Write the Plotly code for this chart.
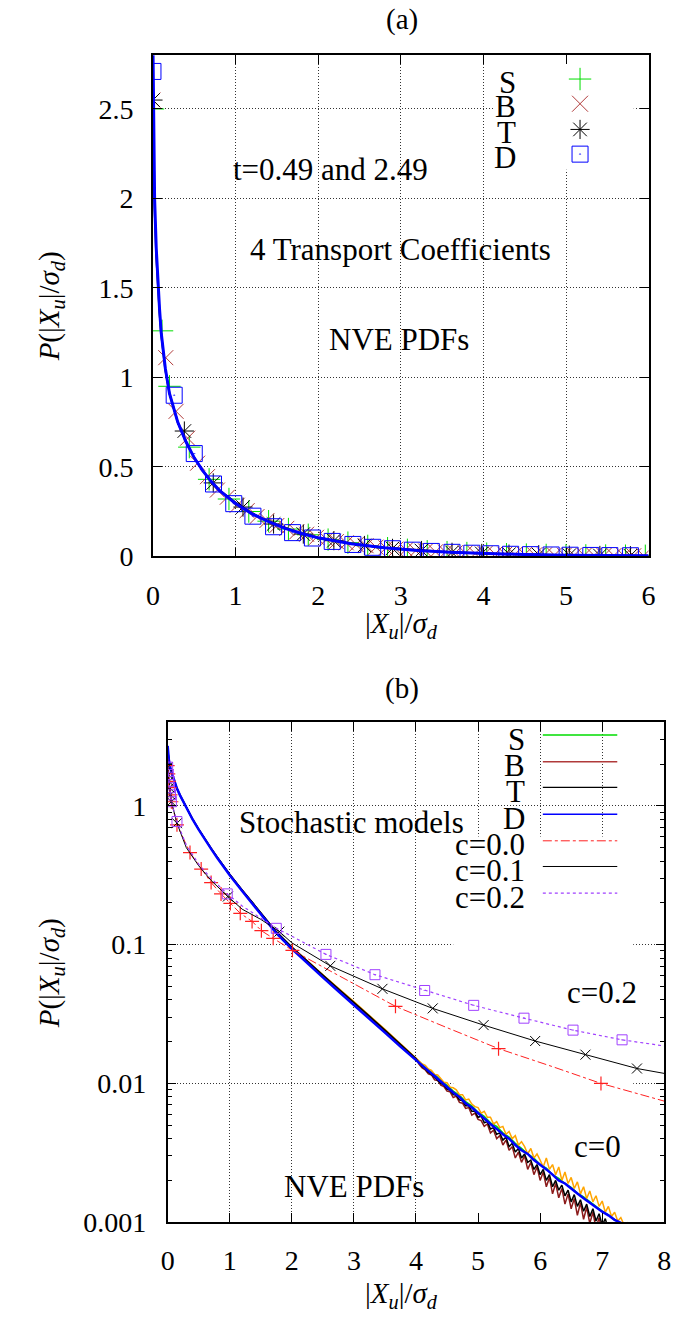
import math
import plotly.graph_objects as go

W, H = 685, 1336

# ---------------- Panel (a) data ----------------
a_line_x = [0.0, 0.01, 0.02, 0.04, 0.06, 0.08, 0.1, 0.15, 0.2, 0.3, 0.4, 0.5, 0.6, 0.7, 0.8, 1.0,
            1.2, 1.4, 1.6, 1.8, 2.0, 2.4, 2.8, 3.2, 3.6, 4.0, 4.5, 5.0, 5.5, 6.0]
a_T_line = [2.55, 2.2, 1.95, 1.68, 1.5, 1.36, 1.24, 1.04, 0.91, 0.75, 0.64, 0.55, 0.48, 0.42, 0.37, 0.3,
            0.24, 0.195, 0.158, 0.128, 0.104, 0.071, 0.048, 0.033, 0.022, 0.015, 0.0095, 0.0061, 0.0039, 0.0026]
a_D_line = [2.85, 2.3, 2.0, 1.72, 1.52, 1.38, 1.25, 1.05, 0.91, 0.75, 0.64, 0.55, 0.48, 0.42, 0.37, 0.295,
            0.237, 0.193, 0.156, 0.127, 0.103, 0.07, 0.047, 0.032, 0.022, 0.015, 0.0094, 0.006, 0.0039, 0.0026]

a_S_x = [0.0, 0.11, 0.2, 0.44, 0.68, 0.92, 1.16, 1.4, 1.64, 1.88, 2.12, 2.36, 2.6, 2.84, 3.08, 3.32,
         3.56, 3.8, 4.04, 4.28, 4.52, 4.76, 5.0, 5.24, 5.48, 5.72, 5.96]
a_S_y = [2.5, 1.26, 0.95, 0.61, 0.43, 0.32, 0.25, 0.196, 0.152, 0.12, 0.093, 0.076, 0.058, 0.045, 0.036, 0.028,
         0.023, 0.018, 0.0143, 0.0113, 0.0092, 0.0073, 0.006, 0.0048, 0.004, 0.0032, 0.0026]

a_B_x = [0.0, 0.155, 0.28, 0.42, 0.54, 0.66, 0.78, 0.9, 1.02, 1.14, 1.26, 1.38, 1.5, 1.62, 1.74, 1.86,
         1.98, 2.1, 2.22, 2.34, 2.46, 2.58, 2.7, 2.82, 2.94, 3.06, 3.18, 3.3, 3.42, 3.54, 3.66, 3.78,
         3.9, 4.02, 4.14, 4.26, 4.38, 4.5, 4.62, 4.74, 4.86, 4.98, 5.1, 5.22, 5.34, 5.46, 5.58, 5.7, 5.82, 5.94]
a_B_y = [2.55, 1.11, 0.81, 0.66, 0.52, 0.445, 0.37, 0.33, 0.285, 0.255, 0.222, 0.2, 0.172, 0.156, 0.136, 0.123,
         0.106, 0.095, 0.082, 0.075, 0.065, 0.059, 0.051, 0.047, 0.04, 0.037, 0.031, 0.03, 0.025, 0.024, 0.0195, 0.0185,
         0.0155, 0.015, 0.0125, 0.0118, 0.0099, 0.0096, 0.008, 0.0077, 0.0064, 0.0062, 0.0052, 0.005, 0.0042, 0.0041,
         0.0035, 0.0033, 0.0028, 0.0027]

a_T_x = [0.0, 0.38, 0.73, 1.09, 1.46, 1.82, 2.19, 2.56, 2.9, 3.25, 3.62, 3.98, 4.31, 4.67, 5.04, 5.41, 5.78]
a_T_y = [2.55, 0.70, 0.41, 0.275, 0.18, 0.124, 0.087, 0.06, 0.044, 0.032, 0.022, 0.0158, 0.0118, 0.0086,
         0.0062, 0.0045, 0.0032]

a_D_x = [0.0, 0.257, 0.5, 0.733, 0.978, 1.21, 1.46, 1.69, 1.93, 2.17, 2.42, 2.66, 2.9, 3.14, 3.37, 3.62,
         3.86, 4.09, 4.33, 4.57, 4.82, 5.05, 5.3, 5.53, 5.78]
a_D_y = [2.71, 0.90, 0.574, 0.404, 0.294, 0.224, 0.165, 0.132, 0.102, 0.083, 0.066, 0.05, 0.042, 0.034,
         0.027, 0.022, 0.017, 0.014, 0.011, 0.009, 0.0072, 0.0058, 0.0046, 0.0037, 0.003]

# ---------------- Panel (b) data ----------------
b_x_smooth = [0.0, 0.02, 0.05, 0.1, 0.15, 0.2, 0.3, 0.4, 0.5, 0.6, 0.7, 0.8, 0.9, 1.0, 1.2, 1.4, 1.6, 1.75,
              2.0, 2.25, 2.5, 2.75, 3.0, 3.25, 3.5, 3.75, 4.0]
b_x_tail = [4.1, 4.2, 4.3, 4.4, 4.5, 4.6, 4.7, 4.8, 4.9, 5.0, 5.1, 5.2, 5.3, 5.4, 5.5, 5.6, 5.7, 5.8, 5.9,
            6.0, 6.1, 6.2, 6.3, 6.4, 6.5, 6.6, 6.7, 6.8, 6.9, 7.0, 7.1, 7.2, 7.3, 7.4]
b_x_noisy = [4.05, 4.1, 4.15, 4.2, 4.25, 4.3, 4.35, 4.4, 4.45, 4.5, 4.55, 4.6, 4.65, 4.7, 4.75, 4.8, 4.85,
             4.9, 4.95, 5.0, 5.05, 5.1, 5.15, 5.2, 5.25, 5.3, 5.35, 5.4, 5.45, 5.5, 5.55, 5.6, 5.65, 5.7,
             5.75, 5.8, 5.85, 5.9, 5.95, 6.0, 6.05, 6.1, 6.15, 6.2, 6.25, 6.3, 6.35, 6.4, 6.45, 6.5, 6.55,
             6.6, 6.65, 6.7, 6.75, 6.8, 6.85, 6.9, 6.95, 7.0, 7.05, 7.1, 7.15, 7.2, 7.25, 7.3, 7.35, 7.4, 7.45]

b_S_smooth = [2.6, 2.1, 1.8, 1.52, 1.33, 1.19, 0.968, 0.803, 0.676, 0.574, 0.492, 0.424, 0.367, 0.319, 0.246,
              0.19, 0.148, 0.123, 0.0952, 0.0752, 0.0598, 0.0477, 0.0381, 0.0302, 0.024, 0.019, 0.0151]
b_S_tail = [0.0137, 0.0125, 0.0116, 0.0105, 0.0097, 0.0088, 0.0082, 0.0074, 0.0069, 0.0062, 0.0058, 0.0052,
            0.0049, 0.0044, 0.0041, 0.0037, 0.0034, 0.0031, 0.0029, 0.0026, 0.00245, 0.0022, 0.00207, 0.0019,
            0.00178, 0.00162, 0.00152, 0.0014, 0.0013, 0.0012, 0.00113, 0.00104, 0.00098, 0.0009]
b_B_smooth = [2.62, 2.11, 1.8, 1.52, 1.33, 1.19, 0.967, 0.804, 0.677, 0.575, 0.493, 0.425, 0.368, 0.32, 0.247,
              0.191, 0.1485, 0.1235, 0.0955, 0.0755, 0.06, 0.0479, 0.0383, 0.0303, 0.0241, 0.019, 0.015]
b_B_noisy = [0.0137, 0.0129, 0.0125, 0.0117, 0.0115, 0.0106, 0.0105, 0.0097, 0.0095, 0.0088, 0.0087, 0.0079,
             0.0081, 0.0073, 0.0072, 0.0066, 0.0067, 0.0059, 0.0061, 0.0055, 0.0054, 0.0049, 0.0051, 0.0044,
             0.0046, 0.0040, 0.0042, 0.0036, 0.0039, 0.0033, 0.0035, 0.0029, 0.0032, 0.0027, 0.0030, 0.0024,
             0.0027, 0.0022, 0.0025, 0.0020, 0.0023, 0.0018, 0.0021, 0.0016, 0.0019, 0.0015, 0.00175, 0.00135,
             0.0016, 0.00125, 0.00148, 0.00112, 0.00138, 0.00105, 0.00128, 0.00098, 0.00118, 0.0009, 0.00108,
             0.00085, 0.001, 0.0008, 0.00092, 0.00075, 0.0008, 0.0007, 0.0007, 0.0006, 0.0006]
b_T_smooth = [2.65, 2.12, 1.81, 1.53, 1.335, 1.195, 0.97, 0.806, 0.679, 0.577, 0.495, 0.427, 0.37, 0.322, 0.248,
              0.192, 0.149, 0.124, 0.096, 0.0758, 0.0603, 0.0481, 0.0385, 0.0305, 0.0242, 0.0191, 0.0151]
b_T_noisy = [0.0141, 0.0132, 0.0127, 0.0120, 0.0116, 0.0110, 0.0106, 0.0100, 0.0097, 0.0091, 0.0089, 0.0083,
             0.0082, 0.0076, 0.0075, 0.0069, 0.0069, 0.0063, 0.0063, 0.0057, 0.0058, 0.0052, 0.0053, 0.0047,
             0.0048, 0.0043, 0.0044, 0.0039, 0.0041, 0.0035, 0.0037, 0.0032, 0.0034, 0.0029, 0.0031, 0.0027,
             0.0028, 0.0024, 0.0026, 0.0022, 0.0024, 0.0020, 0.0022, 0.0018, 0.0020, 0.0017, 0.00185, 0.00155,
             0.0017, 0.0014, 0.00158, 0.0013, 0.00145, 0.0012, 0.00135, 0.0011, 0.00125, 0.00102, 0.00115,
             0.00095, 0.00106, 0.00088, 0.00097, 0.00082, 0.00088, 0.00076, 0.0008, 0.0007, 0.0007]
b_D_smooth = [2.7, 2.14, 1.82, 1.53, 1.33, 1.19, 0.966, 0.8, 0.673, 0.571, 0.489, 0.421, 0.364, 0.316, 0.243,
              0.1875, 0.1455, 0.1208, 0.0933, 0.0733, 0.058, 0.0461, 0.0368, 0.0292, 0.0232, 0.0184, 0.0146]
b_D_tail = [0.0134, 0.0123, 0.0113, 0.0103, 0.0095, 0.0086, 0.0080, 0.0072, 0.0067, 0.0061, 0.0056, 0.0051,
            0.0047, 0.0043, 0.0040, 0.0036, 0.0033, 0.0031, 0.0028, 0.0026, 0.0024, 0.0022, 0.0020, 0.0019,
            0.00174, 0.00161, 0.00149, 0.00138, 0.00128, 0.00119, 0.00112, 0.00104, 0.00099, 0.00093]
b_O_head_x = [2.0, 2.5, 3.0, 3.5, 4.0]
b_O_head_y = [0.096, 0.0605, 0.0388, 0.0245, 0.0152]
b_O_noisy = [0.0146, 0.0138, 0.0135, 0.0127, 0.0124, 0.0116, 0.0115, 0.0109, 0.0102, 0.0101, 0.0094, 0.0093,
             0.0090, 0.0083, 0.0083, 0.0076, 0.0077, 0.0071, 0.0068, 0.0067, 0.0061, 0.0063, 0.0057, 0.0057,
             0.0051, 0.0053, 0.0048, 0.0049, 0.0043, 0.0045, 0.0040, 0.0042, 0.0036, 0.0038, 0.0035, 0.0031,
             0.0034, 0.0029, 0.0031, 0.0028, 0.0025, 0.0029, 0.0024, 0.0026, 0.0022, 0.0025, 0.0020, 0.0023,
             0.0019, 0.0021, 0.00175, 0.00195, 0.0016, 0.0018, 0.00148, 0.00168, 0.0014, 0.00155, 0.0013,
             0.00142, 0.00118, 0.0013, 0.0011, 0.00118, 0.00102, 0.00108, 0.00096, 0.00099, 0.00088]

c0_x = [0.0, 0.01, 0.02, 0.03, 0.045, 0.06, 0.15, 0.36, 0.54, 0.70, 0.86, 1.01, 1.17, 1.36, 1.51, 1.70,
        2.01, 2.5, 3.0, 3.67, 4.5, 5.33, 6.2, 6.98, 8.0]
c0_y = [1.95, 1.7, 1.5, 1.35, 1.2, 1.07, 0.73, 0.46, 0.35, 0.28, 0.232, 0.198, 0.168, 0.147, 0.126, 0.111,
        0.091, 0.069, 0.052, 0.0359, 0.0252, 0.0178, 0.0132, 0.01, 0.00745]
c0_mx = [0.0, 0.01, 0.02, 0.03, 0.045, 0.06, 0.15, 0.36, 0.54, 0.70, 0.86, 1.01, 1.17, 1.36, 1.51, 1.70,
         2.01, 3.67, 5.33, 6.98]
c0_my = [1.95, 1.7, 1.5, 1.35, 1.2, 1.07, 0.73, 0.46, 0.35, 0.28, 0.232, 0.198, 0.168, 0.147, 0.126, 0.111,
         0.091, 0.0359, 0.0178, 0.01]

c1_x = [0.0, 0.01, 0.02, 0.03, 0.045, 0.06, 0.15, 0.3, 0.5, 0.7, 0.97, 1.2, 1.5, 1.8, 2.0, 2.62, 3.46,
        4.27, 5.09, 5.92, 6.73, 7.56, 8.0]
c1_y = [1.9, 1.68, 1.5, 1.35, 1.2, 1.07, 0.75, 0.5, 0.37, 0.29, 0.222, 0.18, 0.152, 0.124, 0.103, 0.0703,
        0.048, 0.0347, 0.0263, 0.0202, 0.0161, 0.0128, 0.0118]
c1_mx = [0.0, 0.01, 0.02, 0.03, 0.045, 0.06, 0.15, 0.97, 1.8, 2.62, 3.46, 4.27, 5.09, 5.92, 6.73, 7.56]
c1_my = [1.9, 1.68, 1.5, 1.35, 1.2, 1.07, 0.75, 0.222, 0.124, 0.0703, 0.048, 0.0347, 0.0263, 0.0202,
         0.0161, 0.0128]

c2_x = [0.0, 0.01, 0.02, 0.03, 0.045, 0.06, 0.15, 0.3, 0.5, 0.7, 0.96, 1.2, 1.5, 1.75, 2.0, 2.55, 3.34,
        4.14, 4.93, 5.74, 6.53, 7.32, 8.0]
c2_y = [1.9, 1.68, 1.5, 1.35, 1.2, 1.07, 0.77, 0.52, 0.38, 0.3, 0.232, 0.19, 0.155, 0.131, 0.115, 0.085,
        0.0607, 0.0467, 0.0365, 0.0295, 0.0242, 0.0206, 0.0186]
c2_mx = [0.0, 0.01, 0.02, 0.03, 0.045, 0.06, 0.15, 0.96, 1.75, 2.55, 3.34, 4.14, 4.93, 5.74, 6.53, 7.32]
c2_my = [1.9, 1.68, 1.5, 1.35, 1.2, 1.07, 0.77, 0.232, 0.131, 0.085, 0.0607, 0.0467, 0.0365, 0.0295,
         0.0242, 0.0206]

# ---------------- styling ----------------
FONT = "Liberation Serif"
FS_TICK = 28
FS_TEXT = 31
FS_TITLE = 29
C_S = "#00dd00"
C_B = "#b03a3a"
C_T = "#000000"
C_D = "#0000ff"
C_C0 = "#ff2020"
C_C2 = "#a040ff"


def px(x, y):
    return x / W, 1 - y / H


fig = go.Figure()

# ---- panel (a) ----
fig.add_trace(go.Scatter(x=a_S_x, y=a_S_y, mode="markers", xaxis="x", yaxis="y", showlegend=False,
                         marker=dict(symbol="cross-thin-open", size=16, color=C_S, line=dict(width=1, color=C_S))))
fig.add_trace(go.Scatter(x=a_B_x, y=a_B_y, mode="markers", xaxis="x", yaxis="y", showlegend=False,
                         marker=dict(symbol="x-thin-open", size=15, color=C_B, line=dict(width=1, color=C_B))))
fig.add_trace(go.Scatter(x=a_T_x, y=a_T_y, mode="markers", xaxis="x", yaxis="y", showlegend=False,
                         marker=dict(symbol="asterisk-open", size=16, color=C_T, line=dict(width=1, color=C_T))))
fig.add_trace(go.Scatter(x=a_D_x, y=a_D_y, mode="markers", xaxis="x", yaxis="y", showlegend=False,
                         marker=dict(symbol="square-open-dot", size=16, color=C_D, line=dict(width=1, color=C_D))))
fig.add_trace(go.Scatter(x=a_line_x, y=a_T_line, mode="lines", xaxis="x", yaxis="y", showlegend=False,
                         line=dict(color="black", width=2)))
fig.add_trace(go.Scatter(x=a_line_x, y=a_D_line, mode="lines", xaxis="x", yaxis="y", showlegend=False,
                         line=dict(color=C_D, width=3)))

# ---- panel (b) ----
fig.add_trace(go.Scatter(x=b_x_smooth + b_x_tail, y=b_S_smooth + b_S_tail, mode="lines", xaxis="x2",
                         yaxis="y2", showlegend=False, line=dict(color=C_S, width=1.5)))
fig.add_trace(go.Scatter(x=b_x_smooth + b_x_noisy, y=b_B_smooth + b_B_noisy, mode="lines", xaxis="x2",
                         yaxis="y2", showlegend=False, line=dict(color="#8b1a1a", width=1.5)))
fig.add_trace(go.Scatter(x=b_O_head_x + b_x_noisy, y=b_O_head_y + b_O_noisy, mode="lines", xaxis="x2",
                         yaxis="y2", showlegend=False, line=dict(color="#ffa500", width=1.5)))
fig.add_trace(go.Scatter(x=b_x_smooth + b_x_noisy, y=b_T_smooth + b_T_noisy, mode="lines", xaxis="x2",
                         yaxis="y2", showlegend=False, line=dict(color=C_T, width=1.5)))
fig.add_trace(go.Scatter(x=b_x_smooth + b_x_tail, y=b_D_smooth + b_D_tail, mode="lines", xaxis="x2",
                         yaxis="y2", showlegend=False, line=dict(color=C_D, width=2.5)))

fig.add_trace(go.Scatter(x=c0_x, y=c0_y, mode="lines", xaxis="x2", yaxis="y2", showlegend=False,
                         line=dict(color=C_C0, width=1, dash="dashdot")))
fig.add_trace(go.Scatter(x=c0_mx, y=c0_my, mode="markers", xaxis="x2", yaxis="y2", showlegend=False,
                         marker=dict(symbol="cross-thin-open", size=10, color=C_C0, line=dict(width=1.2, color=C_C0))))
fig.add_trace(go.Scatter(x=c1_x, y=c1_y, mode="lines", xaxis="x2", yaxis="y2", showlegend=False,
                         line=dict(color="black", width=1)))
fig.add_trace(go.Scatter(x=c1_mx, y=c1_my, mode="markers", xaxis="x2", yaxis="y2", showlegend=False,
                         marker=dict(symbol="x-thin-open", size=10, color="black", line=dict(width=1, color="black"))))
fig.add_trace(go.Scatter(x=c2_x, y=c2_y, mode="lines", xaxis="x2", yaxis="y2", showlegend=False,
                         line=dict(color=C_C2, width=1.2, dash="dot")))
fig.add_trace(go.Scatter(x=c2_mx, y=c2_my, mode="markers", xaxis="x2", yaxis="y2", showlegend=False,
                         marker=dict(symbol="square-open-dot", size=10, color=C_C2, line=dict(width=1, color=C_C2))))

# ---- legend keys for panel (a), placed on a full-figure pixel axis ----
LEG_A_X = 585
LEG_A_ROWS = [80, 105, 131, 156]
leg_a_specs = [("cross-thin-open", C_S), ("x-thin-open", C_B), ("asterisk-open", C_T), ("square-open-dot", C_D)]
for (sym, col), ry in zip(leg_a_specs, LEG_A_ROWS):
    fig.add_trace(go.Scatter(x=[LEG_A_X], y=[ry], mode="markers", xaxis="x3", yaxis="y3", showlegend=False,
                             marker=dict(symbol=sym, size=16, color=col, line=dict(width=1, color=col))))

annotations = []


def add_text(text, x, y, xanchor="center", angle=0, size=FS_TEXT):
    ax, ay = px(x, y)
    annotations.append(dict(text=text, x=ax, y=ay, xref="paper", yref="paper", xanchor=xanchor,
                            yanchor="middle", showarrow=False, textangle=angle,
                            font=dict(family=FONT, size=size, color="black")))


for lab, ry in zip(["S", "B", "T", "D"], LEG_A_ROWS):
    add_text(lab, 522, ry + 3, xanchor="right")

# ---- legend for panel (b) ----
LEG_B_ROWS = [744, 771, 797, 824, 851, 877, 904]
leg_b_specs = [("S", C_S, "solid", 1.5), ("B", C_B, "solid", 1.5), ("T", "black", "solid", 1.2),
               ("D", C_D, "solid", 1.5), ("c=0.0", C_C0, "dashdot", 1), ("c=0.1", "black", "solid", 1),
               ("c=0.2", C_C2, "dot", 1.2)]
shapes = []
for (lab, col, dash, lw), ry in zip(leg_b_specs, LEG_B_ROWS):
    add_text(lab, 531, ry + 4, xanchor="right")
    x0, y0 = px(547, ry)
    x1, _ = px(623, ry)
    shapes.append(dict(type="line", xref="paper", yref="paper", x0=x0, x1=x1, y0=y0, y1=y0,
                       line=dict(color=col, width=lw, dash=dash), layer="above"))

# white boxes behind the keys (hide gridlines)
shapes.append(dict(type="rect", xref="x", yref="y", x0=4.14, x1=5.82, y0=2.16, y1=2.8,
                   fillcolor="white", line=dict(width=0), layer="between"))
shapes.append(dict(type="rect", xref="x2", yref="y2", x0=4.6, x1=7.5, y0=math.log10(0.188), y1=math.log10(4),
                   fillcolor="white", line=dict(width=0), layer="between"))

add_text("(a)", 403, 20, size=FS_TITLE)
add_text("(b)", 403, 697, size=FS_TITLE)
add_text("t=0.49 and 2.49", 330, 172)
add_text("4 Transport Coefficients", 402, 253)
add_text("NVE PDFs", 400, 344)
add_text("Stochastic models", 352, 832)
add_text("c=0.2", 607, 1005)
add_text("c=0", 603, 1160)
add_text("NVE PDFs", 354, 1201)

XT = "|<i>X</i><sub><i>u</i></sub>|/<i>σ</i><sub><i>d</i></sub>"
YT = "<i>P</i>(|<i>X</i><sub><i>u</i></sub>|/<i>σ</i><sub><i>d</i></sub>)"
add_text(XT, 403, 633, size=FS_TITLE)
add_text(XT, 403, 1311, size=FS_TITLE)
add_text(YT, 45, 310, angle=-90, size=FS_TITLE)
add_text(YT, 45, 985, angle=-90, size=FS_TITLE)

tickfont = dict(family=FONT, size=FS_TICK, color="black")
common = dict(ticks="inside", ticklen=9, tickwidth=1, tickcolor="black", mirror="ticks", showline=True,
              linecolor="black", linewidth=1.5, showgrid=True, gridcolor="#333333", gridwidth=1,
              griddash="1px,2px", zeroline=False, tickfont=tickfont, fixedrange=True)

ax_top_x = [149 / W, 655 / W]
ax_top_y = [(H - 563) / H, (H - 56) / H]
ax_bot_x = [164 / W, 671 / W]
ax_bot_y = [(H - 1237) / H, (H - 731) / H]

minor_vals = [0.002, 0.003, 0.004, 0.005, 0.006, 0.007, 0.008, 0.009,
              0.02, 0.03, 0.04, 0.05, 0.06, 0.07, 0.08, 0.09,
              0.2, 0.3, 0.4, 0.5, 0.6, 0.7, 0.8, 0.9, 2, 3, 4]

fig.update_layout(
    width=W, height=H, margin=dict(l=0, r=0, t=0, b=0),
    paper_bgcolor="white", plot_bgcolor="rgba(0,0,0,0)", showlegend=False,
    font=dict(family=FONT, size=FS_TICK, color="black"),
    xaxis=dict(domain=ax_top_x, anchor="y", range=[0, 6], dtick=1, ticklabelstandoff=13, **common),
    yaxis=dict(domain=ax_top_y, anchor="x", range=[0, 2.8], dtick=0.5, ticklabelstandoff=12, **common),
    xaxis2=dict(domain=ax_bot_x, anchor="y2", range=[0, 8], dtick=1, ticklabelstandoff=12, **common),
    yaxis2=dict(domain=ax_bot_y, anchor="x2", type="log", range=[-3, math.log10(4)],
                tickvals=[0.001, 0.01, 0.1, 1], ticktext=["0.001", "0.01", "0.1", "1"],
                ticklabelstandoff=14,
                minor=dict(ticks="inside", ticklen=5, tickcolor="black", tickvals=minor_vals, showgrid=False),
                **common),
    xaxis3=dict(domain=[0, 1], anchor="y3", range=[0, W], visible=False, fixedrange=True),
    yaxis3=dict(domain=[0, 1], anchor="x3", range=[H, 0], visible=False, fixedrange=True),
    annotations=annotations,
    shapes=shapes,
)

fig.write_html("out.html")
